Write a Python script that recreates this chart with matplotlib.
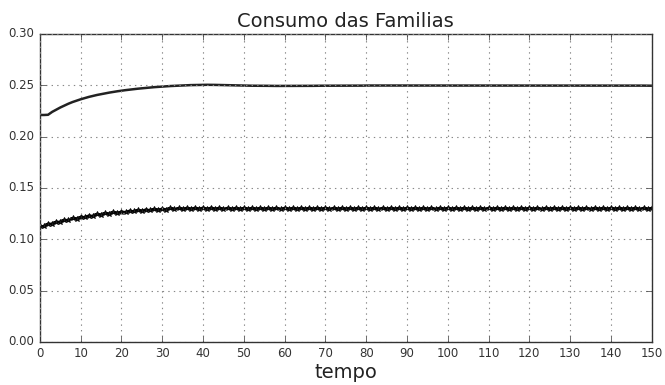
import numpy as np
import matplotlib.pyplot as plt

# tempo: one point per period, 0..150
tempo = list(range(151))

# upper series (smooth)
consumo_alto = [
    0.2210, 0.2210, 0.2212, 0.2240, 0.2262, 0.2283, 0.2302, 0.2320, 0.2336, 0.2350,
    0.2363, 0.2375, 0.2386, 0.2396, 0.2405, 0.2413, 0.2421, 0.2428, 0.2435, 0.2441,
    0.2447, 0.2452, 0.2457, 0.2462, 0.2466, 0.2470, 0.2474, 0.2478, 0.2481, 0.2484,
    0.2487, 0.2490, 0.2492, 0.2494, 0.2496, 0.2498, 0.2500, 0.2501, 0.2502, 0.2503,
    0.2504, 0.2504, 0.2504, 0.2503, 0.2502, 0.2501, 0.2500, 0.2499, 0.2498, 0.2497,
    0.2496, 0.2496, 0.2495, 0.2495, 0.2494, 0.2494, 0.2494, 0.2493, 0.2493, 0.2493,
    0.2493, 0.2493, 0.2493, 0.2493, 0.2494, 0.2494, 0.2494, 0.2494, 0.2495, 0.2495,
    0.2495, 0.2495, 0.2495, 0.2496, 0.2496, 0.2496, 0.2496, 0.2496, 0.2496, 0.2496,
    0.2497, 0.2497, 0.2497, 0.2497, 0.2497, 0.2497, 0.2497, 0.2497, 0.2497, 0.2497,
    0.2497, 0.2497, 0.2497, 0.2497, 0.2497, 0.2497, 0.2497, 0.2497, 0.2497, 0.2497,
    0.2497, 0.2497, 0.2497, 0.2497, 0.2497, 0.2497, 0.2497, 0.2497, 0.2497, 0.2497,
    0.2497, 0.2497, 0.2497, 0.2497, 0.2497, 0.2497, 0.2497, 0.2497, 0.2497, 0.2497,
    0.2497, 0.2497, 0.2497, 0.2497, 0.2497, 0.2497, 0.2497, 0.2497, 0.2497, 0.2497,
    0.2497, 0.2497, 0.2497, 0.2497, 0.2497, 0.2497, 0.2497, 0.2497, 0.2497, 0.2497,
    0.2497, 0.2497, 0.2497, 0.2496, 0.2496, 0.2496, 0.2496, 0.2496, 0.2496, 0.2495,
    0.2495,
]

# lower series (jittery, star markers)
consumo_baixo = [
    0.1128, 0.1125, 0.1150, 0.1150, 0.1169, 0.1168, 0.1187, 0.1185, 0.1203, 0.1200,
    0.1217, 0.1214, 0.1230, 0.1226, 0.1242, 0.1237, 0.1252, 0.1247, 0.1261, 0.1255,
    0.1269, 0.1263, 0.1277, 0.1270, 0.1283, 0.1276, 0.1289, 0.1281, 0.1293, 0.1285,
    0.1297, 0.1289, 0.1300, 0.1291, 0.1302, 0.1293, 0.1304, 0.1295, 0.1305, 0.1296,
    0.1306, 0.1296, 0.1306, 0.1295, 0.1305, 0.1295, 0.1304, 0.1294, 0.1304, 0.1294,
    0.1304, 0.1294, 0.1304, 0.1294, 0.1304, 0.1294, 0.1304, 0.1294, 0.1304, 0.1294,
    0.1304, 0.1294, 0.1304, 0.1294, 0.1304, 0.1294, 0.1304, 0.1294, 0.1304, 0.1294,
    0.1304, 0.1294, 0.1304, 0.1294, 0.1304, 0.1294, 0.1304, 0.1294, 0.1304, 0.1294,
    0.1304, 0.1294, 0.1304, 0.1294, 0.1304, 0.1294, 0.1304, 0.1294, 0.1304, 0.1294,
    0.1304, 0.1294, 0.1304, 0.1294, 0.1304, 0.1294, 0.1304, 0.1294, 0.1304, 0.1294,
    0.1304, 0.1294, 0.1304, 0.1294, 0.1304, 0.1294, 0.1304, 0.1294, 0.1304, 0.1294,
    0.1304, 0.1294, 0.1304, 0.1294, 0.1304, 0.1294, 0.1304, 0.1294, 0.1304, 0.1294,
    0.1304, 0.1294, 0.1304, 0.1294, 0.1304, 0.1294, 0.1304, 0.1294, 0.1304, 0.1294,
    0.1304, 0.1294, 0.1304, 0.1294, 0.1304, 0.1294, 0.1304, 0.1294, 0.1304, 0.1294,
    0.1304, 0.1294, 0.1304, 0.1294, 0.1304, 0.1294, 0.1304, 0.1294, 0.1304, 0.1294,
    0.1304,
]

xticks = list(range(0, 151, 10))
yticks = [0.00, 0.05, 0.10, 0.15, 0.20, 0.25, 0.30]

plt.style.use('classic')
fig = plt.figure(figsize=(6.65, 3.85), dpi=100, facecolor='white')
ax = fig.add_axes([0.060, 0.112, 0.920, 0.800])

ax.plot(tempo, consumo_alto, color='#222222', linewidth=1.8)
ax.plot(tempo, consumo_baixo, color='#222222', linewidth=1.8,
        marker='*', markersize=4, markeredgewidth=0.6)

ax.set_xlim(0, 150)
ax.set_ylim(0, 0.30)
ax.set_xticks(xticks)
ax.set_yticks(yticks)
ax.set_yticklabels(['%.2f' % v for v in yticks])
ax.tick_params(labelsize=8.5, colors='#333333')
ax.grid(True, linestyle=':', color='#888888', linewidth=0.8)
for s in ax.spines.values():
    s.set_color('#333333')

ax.set_title('Consumo das Familias', fontsize=14, color='#222222')
ax.set_xlabel('tempo', fontsize=14, color='#222222', labelpad=2)

fig.savefig('out.png', dpi=100, facecolor='white')
